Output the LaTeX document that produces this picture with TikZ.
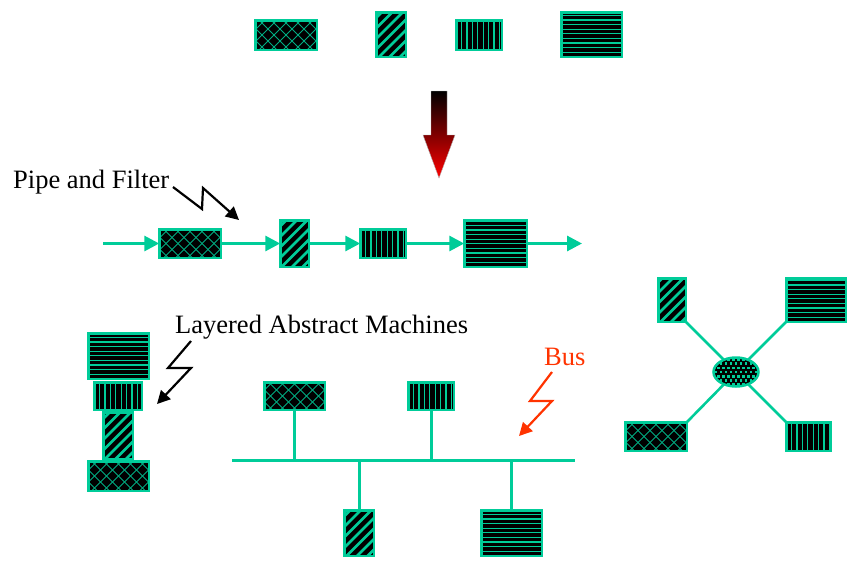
\documentclass[tikz,border=0pt]{standalone}
\usepackage{fontspec}
\setmainfont{Liberation Serif}
\usetikzlibrary{arrows.meta,shapes.geometric}
\definecolor{sea}{RGB}{0,204,153}
\definecolor{boltred}{RGB}{255,51,0}
\tikzset{
  box/.style={draw=sea, line width=2.5pt, fill=black, inner sep=0pt, outer sep=0pt},
  hlines/.style={box, path picture={
    \foreach \k in {1,...,14}
      \draw[sea, line width=1.1pt]
        ([yshift=\k*4.6pt]path picture bounding box.south west) --
        ([yshift=\k*4.6pt]path picture bounding box.south east);}},
  vlines/.style={box, path picture={
    \foreach \k in {1,...,12}
      \draw[sea, line width=1.2pt]
        ([xshift=\k*5.4pt]path picture bounding box.south west) --
        ([xshift=\k*5.4pt]path picture bounding box.north west);}},
  slant/.style={box, path picture={
    \foreach \k in {-8,...,8}
      \draw[sea, line width=2.6pt]
        ([xshift=\k*10.5pt]path picture bounding box.center) ++(-60pt,-60pt) -- ++(120pt,120pt);}},
  mesh/.style={box, path picture={
    \foreach \k in {-9,...,9}{
      \draw[sea!85!black, line width=0.9pt]
        ([xshift=\k*12pt]path picture bounding box.center) ++(-60pt,-60pt) -- ++(120pt,120pt);
      \draw[sea!85!black, line width=0.9pt]
        ([xshift=\k*12pt]path picture bounding box.center) ++(-60pt,60pt) -- ++(120pt,-120pt);}}},
  dotted hub/.style={box, ellipse, path picture={
    \foreach \i in {-6,...,6}
      \foreach \j in {-4,...,4}{
        \pgfmathsetmacro\dx{\i*5+mod(abs(\j),2)*2.5-1.3}
        \pgfmathsetmacro\dy{\j*4.2-1.3}
        \fill[sea] ([xshift=\dx pt, yshift=\dy pt]path picture bounding box.center)
          rectangle ++(2.6pt,2.6pt);}}},
  wire/.style={draw=sea, line width=3pt},
  flow/.style={wire, -{Triangle[length=15pt,width=15pt]}},
  bolt/.style={line width=2.2pt, -{Triangle[length=13pt,width=13pt]}},
  label/.style={font=\fontsize{26.5}{32}\selectfont, inner sep=0pt, anchor=base west},
}
\begin{document}
\begin{tikzpicture}[x=1pt,y=-1pt]
\useasboundingbox (0,0) rectangle (852,560);

% components before composition
\node[mesh,   minimum width=61.5, minimum height=29.5] (t1) at (286,35) {};
\node[slant,  minimum width=29.5, minimum height=44.5] (t2) at (391,34.5) {};
\node[vlines, minimum width=45.5, minimum height=29.5] (t3) at (479,35) {};
\node[hlines, minimum width=60.5, minimum height=44.5] (t4) at (591.5,34.5) {};

% composition arrow
\shade[top color=black, middle color=red!78!black, bottom color=red, draw=gray!60, line width=0.4pt]
  (431,91) -- (447,91) -- (447,135) -- (455,135) -- (439,178)
  -- (423,135) -- (431,135) -- cycle;

% pipe and filter
\node[label] (pipe) at (13,188) {Pipe and Filter};
\coordinate (pa1) at (173,187);
\coordinate (pa2) at (202,209);
\coordinate (pa3) at (203,188);
\coordinate (pa4) at (239,220);
\draw[bolt] (pa1) -- (pa2) -- (pa3) -- (pa4);

\node[mesh,   minimum width=61.5, minimum height=28.5] (p1) at (190,243.5) {};
\node[slant,  minimum width=28.5, minimum height=46.5] (p2) at (294.5,243.5) {};
\node[vlines, minimum width=45.5, minimum height=28.5] (p3) at (383,243.5) {};
\node[hlines, minimum width=62.5, minimum height=46.5] (p4) at (495.5,243.5) {};
\coordinate (pin) at (103,243.5);
\coordinate (pout) at (582,243.5);
\draw[flow] (pin) -- (p1.west);
\draw[flow] (p1.east) -- (p2.west);
\draw[flow] (p2.east) -- (p3.west);
\draw[flow] (p3.east) -- (p4.west);
\draw[flow] (p4.east) -- (pout);

% layered abstract machines
\node[label] (layers) at (175,333) {Layered Abstract Machines};
\coordinate (la1) at (191,341);
\coordinate (la2) at (168,368);
\coordinate (la3) at (191,368);
\coordinate (la4) at (157,404);
\draw[bolt] (la1) -- (la2) -- (la3) -- (la4);

\node[hlines, minimum width=60.5, minimum height=45.5] (l1) at (118.5,356) {};
\node[vlines, minimum width=47.5, minimum height=27.5] (l2) at (118,396) {};
\node[slant,  minimum width=29.5, minimum height=46.5] (l3) at (118,435.5) {};
\node[mesh,   minimum width=60.5, minimum height=29.5] (l4) at (118.5,476) {};

% bus
\node[label, text=boltred] (bus) at (544,365) {Bus};
\coordinate (ba1) at (552,372);
\coordinate (ba2) at (530,401);
\coordinate (ba3) at (552,401);
\coordinate (ba4) at (519,436);
\draw[bolt, boltred] (ba1) -- (ba2) -- (ba3) -- (ba4);

\coordinate (busL) at (232,460);
\coordinate (busR) at (575,460);
\node[mesh,   minimum width=60.5, minimum height=27.5] (b1) at (294.5,396) {};
\node[vlines, minimum width=45.5, minimum height=27.5] (b2) at (431,396) {};
\node[slant,  minimum width=29.5, minimum height=45.5] (b3) at (359,533) {};
\node[hlines, minimum width=60.5, minimum height=45.5] (b4) at (511.5,533) {};
\draw[wire] (busL) -- (busR);
\draw[wire] (b1.south) -- (b1.south |- busL);
\draw[wire] (b2.south) -- (b2.south |- busL);
\draw[wire] (b3.north) -- (b3.north |- busL);
\draw[wire] (b4.north) -- (b4.north |- busL);

% star around a central hub
\node[slant,  minimum width=27.5, minimum height=43.5] (s1) at (672,300) {};
\node[hlines, minimum width=59.5, minimum height=43.5] (s2) at (816,300) {};
\node[mesh,   minimum width=61.5, minimum height=28.5] (s3) at (656,436.5) {};
\node[vlines, minimum width=44.5, minimum height=28.5] (s4) at (808.5,436.5) {};
\node[dotted hub, minimum width=45, minimum height=29] (hub) at (736,372) {};
\draw[wire, line width=2.6pt] (s1.south east) -- (hub);
\draw[wire, line width=2.6pt] (s2.south west) -- (hub);
\draw[wire, line width=2.6pt] (s3.north east) -- (hub);
\draw[wire, line width=2.6pt] (s4.north west) -- (hub);
\end{tikzpicture}
\end{document}
